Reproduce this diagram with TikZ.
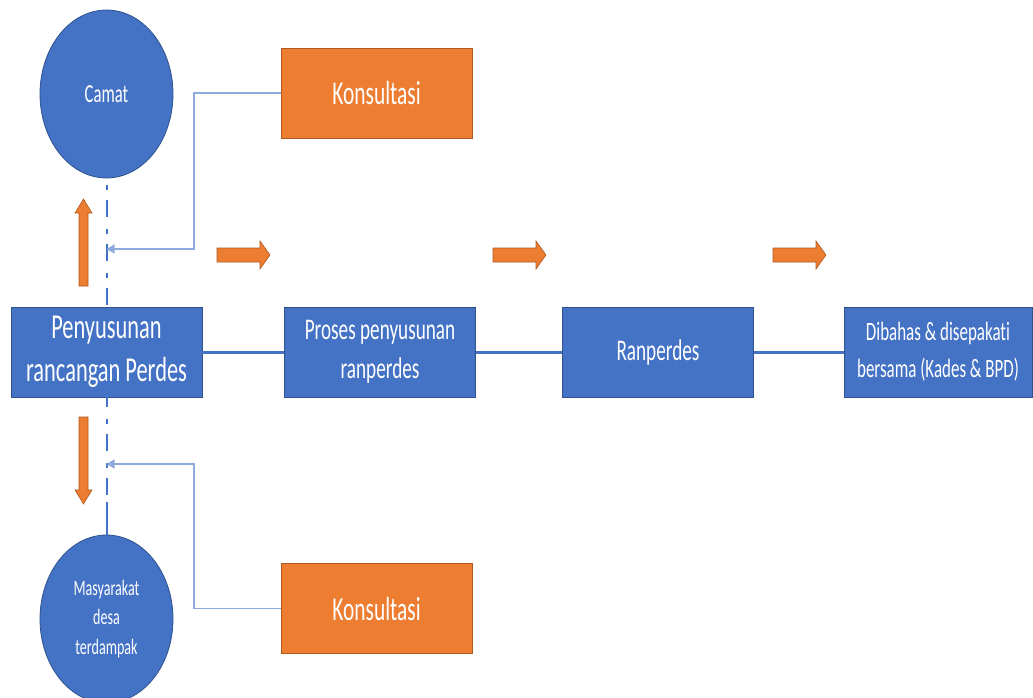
\documentclass[tikz,border=0pt]{standalone}
\usepackage{fontspec}
\setmainfont{Carlito}[FakeStretch=0.64, Ligatures=CommonOff]
\usetikzlibrary{arrows.meta,shapes.geometric}
\definecolor{bfill}{HTML}{4472C4}
\definecolor{bdraw}{HTML}{2F528F}
\definecolor{ofill}{HTML}{ED7D31}
\definecolor{odraw}{HTML}{AE5A21}
\definecolor{lblue}{HTML}{8FAADC}
\newcommand{\fsz}[2]{\fontsize{#1}{#2}\selectfont}
\begin{document}
\begin{tikzpicture}[x=1pt,y=-1pt,
  bbox/.style={draw=bdraw, fill=bfill, line width=0.8pt, text=white, inner sep=0pt, align=center,
    minimum width=191pt, minimum height=90pt},
  obox/.style={draw=odraw, fill=ofill, line width=0.8pt, text=white, inner sep=0pt, align=center,
    minimum width=191pt, minimum height=90pt},
  circ/.style={ellipse, draw=bdraw, fill=bfill, line width=0.8pt, text=white, inner sep=0pt, align=center,
    minimum width=133pt, minimum height=168pt},
  oarrow/.style={fill=ofill, draw=odraw, line width=0.6pt, line join=miter},
  hline/.style={draw=bfill, line width=3pt},
  dd/.style={draw=bfill, line width=2pt, dash pattern=on 5pt off 10pt on 17pt off 12pt},
  conn/.style={draw=lblue, line width=1.2pt, -{Triangle[length=8pt,width=9pt]}}]
\useasboundingbox (0,0) rectangle (1033,698);
\clip (0,0) rectangle (1033,698);

% ellipses
\node[circ, font=\fsz{26}{32}] (camat) at (106.5,94) {Camat};
\node[circ, font=\fsz{22}{29.5}] (masy) at (106.5,619) {Masyarakat\\desa\\terdampak};

% main boxes
\node[bbox, font=\fsz{35}{43}] (pen) at (106.5,352) {Penyusunan\\rancangan Perdes};
\node[bbox, font=\fsz{30}{39}] (pro) at (380,352) {Proses penyusunan\\ranperdes};
\node[bbox, font=\fsz{30}{39}] (ran) at (658,352) {Ranperdes};
\node[bbox, minimum width=188pt, font=\fsz{26.5}{37}] (dib) at (938,352) {Dibahas \& disepakati\\bersama (Kades \& BPD)};

% konsultasi boxes
\node[obox, font=\fsz{33.5}{40}] (k1) at (376.5,93) {Konsultasi};
\node[obox, font=\fsz{33.5}{40}] (k2) at (376.5,608.5) {Konsultasi};

% horizontal connectors
\draw[hline] (pen.east) -- (pro.west);
\draw[hline] (pro.east) -- (ran.west);
\draw[hline] (ran.east) -- (dib.west);

% dash-dot verticals
\draw[dd, dash phase=37pt] (camat.south) -- (pen.north);
\draw[dd, dash phase=22pt] (pen.south) -- (masy.north);
\draw[draw=bfill, line width=2pt] (106.5,502) -- (masy.north);

% light blue elbow connectors
\coordinate (c1) at (106.5,249);
\coordinate (c2) at (106.5,464);
\draw[conn] (k1.west) -| (194,249) -- (c1);
\draw[conn] (k2.west) -| (194,464) -- (c2);

% orange block arrows
\draw[oarrow] (79,286) -- (79,213) -- (75,213) -- (83.5,199) -- (92,213) -- (88,213) -- (88,286) -- cycle;
\draw[oarrow] (79,417) -- (79,490) -- (75,490) -- (83.5,504) -- (92,490) -- (88,490) -- (88,417) -- cycle;
\draw[oarrow] (217,248) -- (260,248) -- (260,241) -- (270,255) -- (260,269) -- (260,262) -- (217,262) -- cycle;
\draw[oarrow] (493,248) -- (536,248) -- (536,241) -- (546,255) -- (536,269) -- (536,262) -- (493,262) -- cycle;
\draw[oarrow] (773,248) -- (816,248) -- (816,241) -- (826,255) -- (816,269) -- (816,262) -- (773,262) -- cycle;
\end{tikzpicture}
\end{document}
